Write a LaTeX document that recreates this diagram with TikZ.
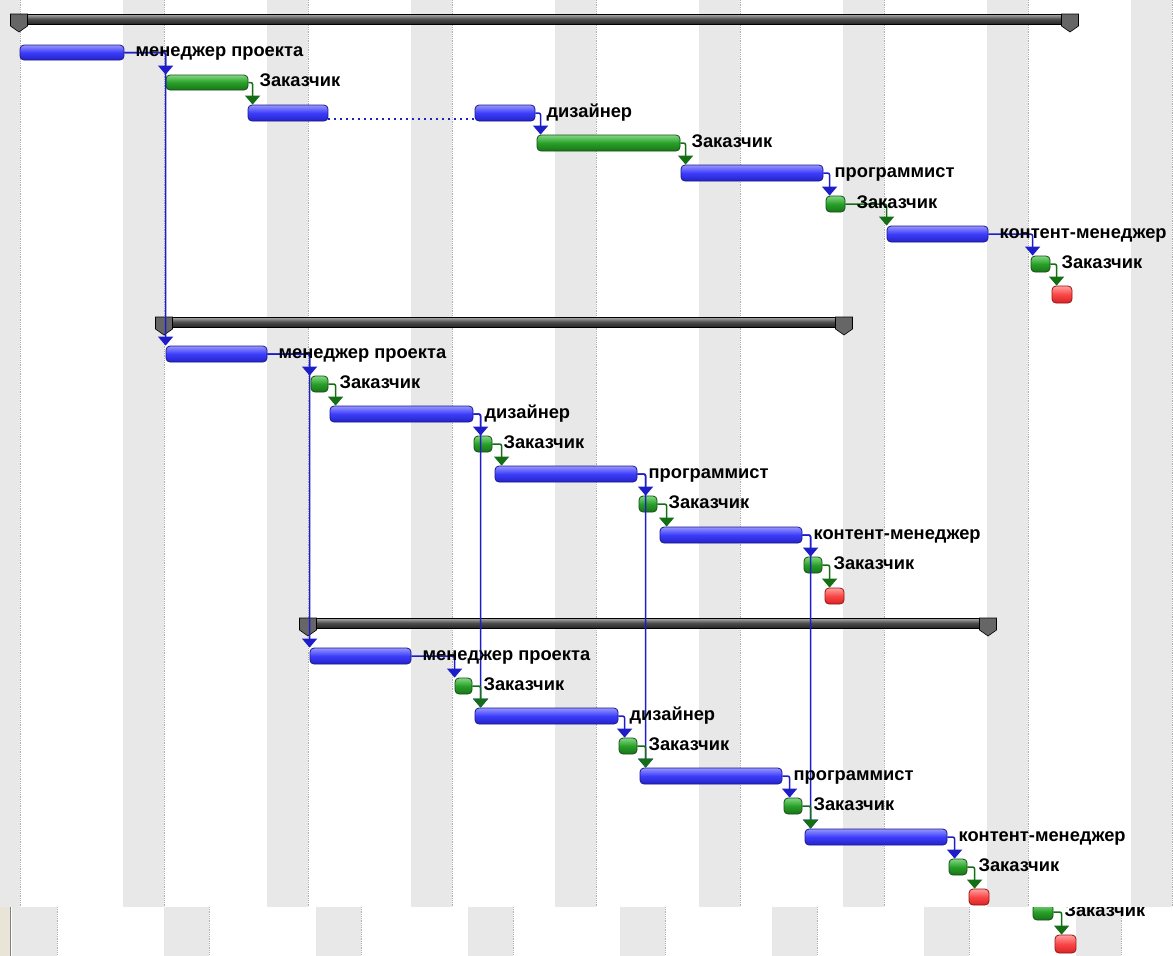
\documentclass[tikz,border=0pt]{standalone}
\usepackage{fontspec}
\setmainfont{Liberation Sans}
\usetikzlibrary{arrows.meta,calc}
\definecolor{bTop}{RGB}{150,150,255}
\definecolor{bMid}{RGB}{60,60,250}
\definecolor{bBot}{RGB}{35,35,200}
\definecolor{bEdge}{RGB}{25,25,140}
\definecolor{gTop}{RGB}{130,215,130}
\definecolor{gMid}{RGB}{40,160,40}
\definecolor{gBot}{RGB}{25,115,25}
\definecolor{gEdge}{RGB}{20,80,20}
\definecolor{rTop}{RGB}{255,160,160}
\definecolor{rMid}{RGB}{250,70,70}
\definecolor{rBot}{RGB}{215,35,35}
\definecolor{rEdge}{RGB}{150,20,20}
\definecolor{bLine}{RGB}{30,30,200}
\definecolor{gLine}{RGB}{20,110,20}
\definecolor{stripeC}{RGB}{232,232,232}
\definecolor{stripeE}{RGB}{175,175,175}
\definecolor{beigeC}{RGB}{232,228,214}
\tikzset{
  bar/.style={rectangle, rounded corners=4pt, inner sep=0pt, line width=0.8pt},
  bluebar/.style={bar, draw=bEdge, top color=bTop, bottom color=bBot, middle color=bMid},
  greenbar/.style={bar, draw=gEdge, top color=gTop, bottom color=gBot, middle color=gMid},
  redbar/.style={bar, draw=rEdge, top color=rTop, bottom color=rBot, middle color=rMid},
  sumbar/.style={rectangle, inner sep=0pt, draw=black, line width=0.8pt, top color=gray!60, bottom color=black!85, middle color=black!70},
  capshape/.style={fill=black!60, draw=black, line width=0.6pt},
  lab/.style={anchor=base west, inner sep=0pt, font=\bfseries\fontsize{18.3}{20}\selectfont},
  bc/.style={draw=bLine, line width=1.5pt, rounded corners=2pt, -{Triangle[width=15pt,length=9pt]}},
  gc/.style={draw=gLine, line width=1.5pt, rounded corners=2pt, -{Triangle[width=15pt,length=9pt]}},
  stripe/.style={fill=stripeC},
  stripeedge/.style={draw=stripeE, line width=0.8pt, densely dotted}
}
\newcommand\gbar[6]{\node[#2, minimum width={#4pt-#3pt}, minimum height={#6pt-#5pt}] (#1) at ({(#3+#4)/2},{(#5+#6)/2}) {};}
\newcommand\glab[3]{\node[lab] (#1) at ([xshift=11pt,yshift=-4pt]#2.east) {#3};}
\newcommand\sumcap[2]{\path[capshape] ({#1-8.5},{#2}) -- ({#1+8.5},{#2}) -- ({#1+8.5},{#2+12}) -- ({#1},{#2+18}) -- ({#1-8.5},{#2+12}) -- cycle;}
\begin{document}
\begin{tikzpicture}[x=1pt,y=-1pt]
\useasboundingbox (0,0) rectangle (1173,956);
\fill[white] (0,0) rectangle (1173,956);
% background stripes (upper chart)
\foreach \x in {-21,123,267,411,555,699,843,987,1131} {
  \fill[stripe] (\x,0) rectangle ++(41,907);
  \draw[stripeedge] (\x+41,0) -- ++(0,907);
}
% bottom band
\fill[white] (0,907) rectangle (1173,956);
\foreach \x in {12,164,316,468,620,772,924,1076} {
  \fill[stripe] (\x,907) rectangle ++(45,49);
  \draw[stripeedge] (\x+45,907) -- ++(0,49);
}
\fill[beigeC] (0,907) rectangle (10,956);
\draw[gray, line width=1pt] (10,907) -- (10,956);

% ---------- group 1 ----------
\gbar{s1}{sumbar}{12}{1078}{14}{24}
\sumcap{19}{14}\sumcap{1070}{14}
\gbar{t1}{bluebar}{20}{124}{45}{60}
\gbar{t2}{greenbar}{166}{248}{75}{90}
\gbar{t3}{bluebar}{248}{328}{105}{121}
\gbar{t4}{bluebar}{475}{535}{105}{121}
\gbar{t5}{greenbar}{537}{680}{135}{151}
\gbar{t6}{bluebar}{681}{823}{165}{181}
\gbar{m1}{greenbar}{826}{845}{196}{212}
\gbar{t8}{bluebar}{887}{988}{226}{242}
\gbar{m2}{greenbar}{1031}{1050}{256}{272}
\gbar{r1}{redbar}{1052}{1072}{286}{303}

% ---------- group 2 ----------
\gbar{s2}{sumbar}{156}{852}{317}{327}
\sumcap{164}{317}\sumcap{844}{317}
\gbar{u1}{bluebar}{166}{267}{346}{362}
\gbar{v1}{greenbar}{311}{328}{376}{392}
\gbar{u2}{bluebar}{330}{473}{406}{422}
\gbar{v2}{greenbar}{474}{492}{436}{452}
\gbar{u3}{bluebar}{495}{637}{466}{482}
\gbar{v3}{greenbar}{639}{657}{496}{512}
\gbar{u4}{bluebar}{660}{802}{527}{543}
\gbar{v4}{greenbar}{804}{822}{557}{573}
\gbar{r2}{redbar}{825}{844}{588}{604}

% ---------- group 3 ----------
\gbar{s3}{sumbar}{300}{996}{618}{628}
\sumcap{308}{618}\sumcap{988}{618}
\gbar{w1}{bluebar}{310}{411}{648}{664}
\gbar{x1}{greenbar}{455}{472}{678}{694}
\gbar{w2}{bluebar}{475}{618}{708}{724}
\gbar{x2}{greenbar}{619}{637}{738}{754}
\gbar{w3}{bluebar}{640}{782}{768}{784}
\gbar{x3}{greenbar}{784}{802}{798}{814}
\gbar{w4}{bluebar}{805}{947}{829}{845}
\gbar{x4}{greenbar}{949}{967}{859}{875}
\gbar{r3}{redbar}{969}{989}{889}{905}

% ---------- connectors group 1 ----------
\draw[bLine, line width=2pt, dash pattern=on 2pt off 4pt] ([yshift=2pt]t3.south east) -- ([yshift=2pt]t4.south west);
\draw[bc] (t1.east) -| (t2.north west);
\draw[bc] (t1.east) -| (u1.north west);
\draw[gc] (t2.east) -| ([xshift=5pt]t3.north west);
\draw[bc] (t4.east) -| ([xshift=4pt]t5.north west);
\draw[gc] (t5.east) -| ([xshift=5pt]t6.north west);
\draw[bc] (t6.east) -| ([xshift=4pt]m1.north west);
\draw[gc] (m1.east) -| (t8.north west);
\draw[bc] (t8.east) -| ([xshift=2pt]m2.north west);
\draw[gc] (m2.east) -| ([xshift=5pt]r1.north west);

% ---------- connectors group 2 ----------
\draw[bc] (u1.east) -| ([xshift=-1pt]v1.north west);
\draw[bc] (u1.east) -| (w1.north west);
\draw[gc] (v1.east) -| ([xshift=6pt]u2.north west);
\draw[bc] (u2.east) -| ([xshift=6pt]w2.north west);
\draw[bc] (u2.east) -| ([xshift=7pt]v2.north west);
\draw[gc] (v2.east) -| ([xshift=7pt]u3.north west);
\draw[bc] (u3.east) -| ([xshift=6pt]w3.north west);
\draw[bc] (u3.east) -| ([xshift=7pt]v3.north west);
\draw[gc] (v3.east) -| ([xshift=7pt]u4.north west);
\draw[bc] (u4.east) -| ([xshift=6pt]w4.north west);
\draw[bc] (u4.east) -| ([xshift=7pt]v4.north west);
\draw[gc] (v4.east) -| ([xshift=5pt]r2.north west);

% ---------- connectors group 3 ----------
\draw[bc] (w1.east) -| ([xshift=0pt]x1.north west);
\draw[gc] (x1.east) -| ([xshift=6pt]w2.north west);
\draw[bc] (w2.east) -| ([xshift=6pt]x2.north west);
\draw[gc] (x2.east) -| ([xshift=6pt]w3.north west);
\draw[bc] (w3.east) -| ([xshift=6pt]x3.north west);
\draw[gc] (x3.east) -| ([xshift=6pt]w4.north west);
\draw[bc] (w4.east) -| ([xshift=6pt]x4.north west);
\draw[gc] (x4.east) -| ([xshift=6pt]r3.north west);

% ---------- bottom band (cut-off rows) ----------
\begin{scope}
\clip (0,907) rectangle (1173,956);
\gbar{y1}{greenbar}{1033}{1053}{904}{920}
\gbar{r4}{redbar}{1055}{1076}{935}{953}
\draw[gc] (y1.east) -| ([xshift=7pt]r4.north west);
\glab{ly1}{y1}{Заказчик}
\end{scope}

% ---------- labels ----------
\glab{l1}{t1}{менеджер проекта}
\glab{l2}{t2}{Заказчик}
\glab{l4}{t4}{дизайнер}
\glab{l5}{t5}{Заказчик}
\glab{l6}{t6}{программист}
\glab{l7}{m1}{Заказчик}
\glab{l8}{t8}{контент-менеджер}
\glab{l9}{m2}{Заказчик}
\glab{lu1}{u1}{менеджер проекта}
\glab{lv1}{v1}{Заказчик}
\glab{lu2}{u2}{дизайнер}
\glab{lv2}{v2}{Заказчик}
\glab{lu3}{u3}{программист}
\glab{lv3}{v3}{Заказчик}
\glab{lu4}{u4}{контент-менеджер}
\glab{lv4}{v4}{Заказчик}
\glab{lw1}{w1}{менеджер проекта}
\glab{lx1}{x1}{Заказчик}
\glab{lw2}{w2}{дизайнер}
\glab{lx2}{x2}{Заказчик}
\glab{lw3}{w3}{программист}
\glab{lx3}{x3}{Заказчик}
\glab{lw4}{w4}{контент-менеджер}
\glab{lx4}{x4}{Заказчик}
\end{tikzpicture}
\end{document}
